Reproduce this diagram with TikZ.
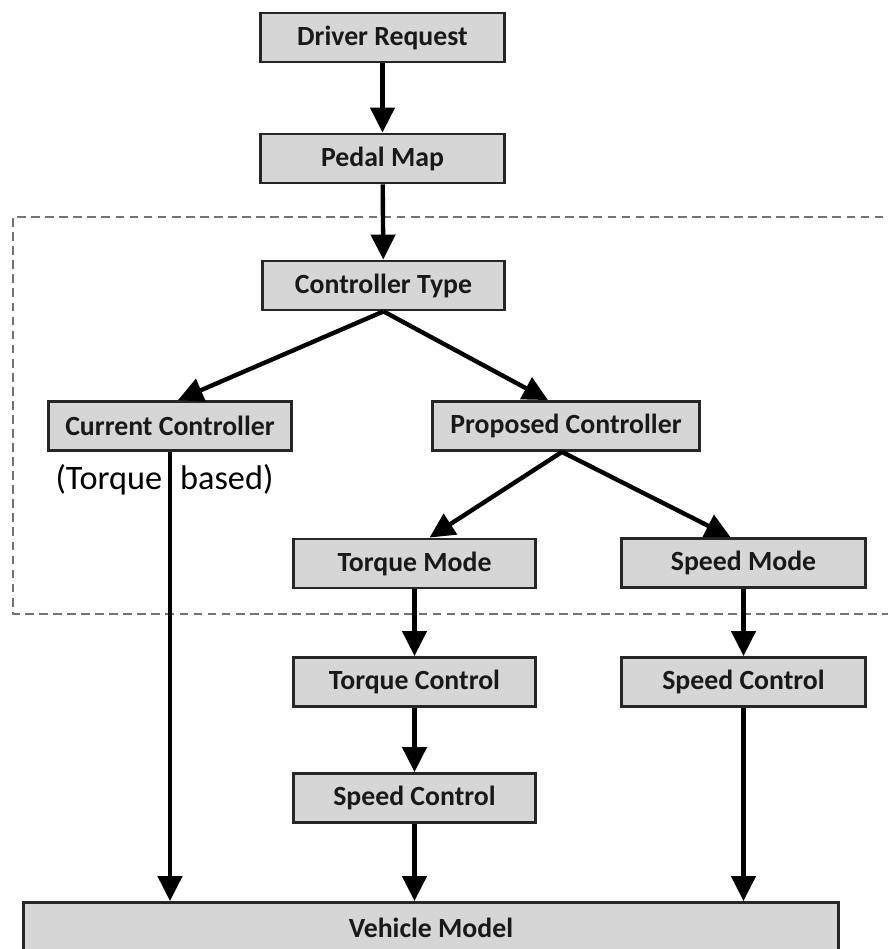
\documentclass[tikz,border=0pt]{standalone}
\usepackage{fontspec}
\setmainfont{Carlito}
\usetikzlibrary{arrows.meta}

\tikzset{
  box/.style={draw=black!85,line width=1.6pt,fill=black!16,inner sep=0pt,text=black!90,
    minimum height=0.98cm,font=\fontsize{15.8}{17}\selectfont\bfseries},
  arr/.style={line width=2.5pt,-{Triangle[length=0.5cm,width=0.48cm]}}
}

\begin{document}
\begin{tikzpicture}
\useasboundingbox (0,0) rectangle (17.76,18.98);
\draw[black!55,line width=1pt,dash pattern=on 5pt off 3pt] (17.95,14.64) -- (0.26,14.64) -- (0.26,6.70) -- (17.95,6.70);
\node[box,minimum width=4.88cm] (driver) at (7.65,18.23) {Driver Request};
\node[box,minimum width=4.88cm] (pedal) at (7.65,15.81) {Pedal Map};
\node[box,minimum width=4.84cm] (ctype) at (7.67,13.27) {Controller Type};
\node[box,minimum width=4.86cm] (current) at (3.40,10.46) {Current Controller};
\node[box,minimum width=5.34cm] (proposed) at (11.32,10.46) {Proposed Controller};
\node[box,minimum width=4.84cm] (tmode) at (8.29,7.71) {Torque Mode};
\node[box,minimum width=4.88cm] (smode) at (14.87,7.72) {Speed Mode};
\node[box,minimum width=4.84cm] (tctrl) at (8.29,5.34) {Torque Control};
\node[box,minimum width=4.88cm] (sctrl) at (14.87,5.34) {Speed Control};
\node[box,minimum width=4.84cm] (sctrlb) at (8.29,3.02) {Speed Control};
\node[box,minimum width=16.3cm,minimum height=1.02cm] (vehicle) at (8.62,0.42) {Vehicle Model};
\node[anchor=base,font=\fontsize{19.5}{22}\selectfont] (torquebased) at (3.29,9.18) {(Torque\hspace{0.3em} based)};
\draw[arr] (driver) -- (pedal);
\draw[arr] (pedal) -- (ctype);
\draw[arr] (ctype.south) -- ([xshift=0.16cm]current.north);
\draw[arr] (ctype.south) -- ([xshift=-0.36cm]proposed.north);
\draw[arr] ([xshift=-0.08cm]proposed.south) -- ([xshift=0.3cm]tmode.north);
\draw[arr] ([xshift=-0.08cm]proposed.south) -- ([xshift=-0.26cm]smode.north);
\draw[arr] (tmode) -- (tctrl);
\draw[arr] (smode) -- (sctrl);
\draw[arr] (tctrl) -- (sctrlb);
\draw[arr] (current.south) -- (current.south |- vehicle.north);
\draw[arr] (sctrlb) -- (sctrlb |- vehicle.north);
\draw[arr] (sctrl) -- (sctrl |- vehicle.north);

\end{tikzpicture}
\end{document}
